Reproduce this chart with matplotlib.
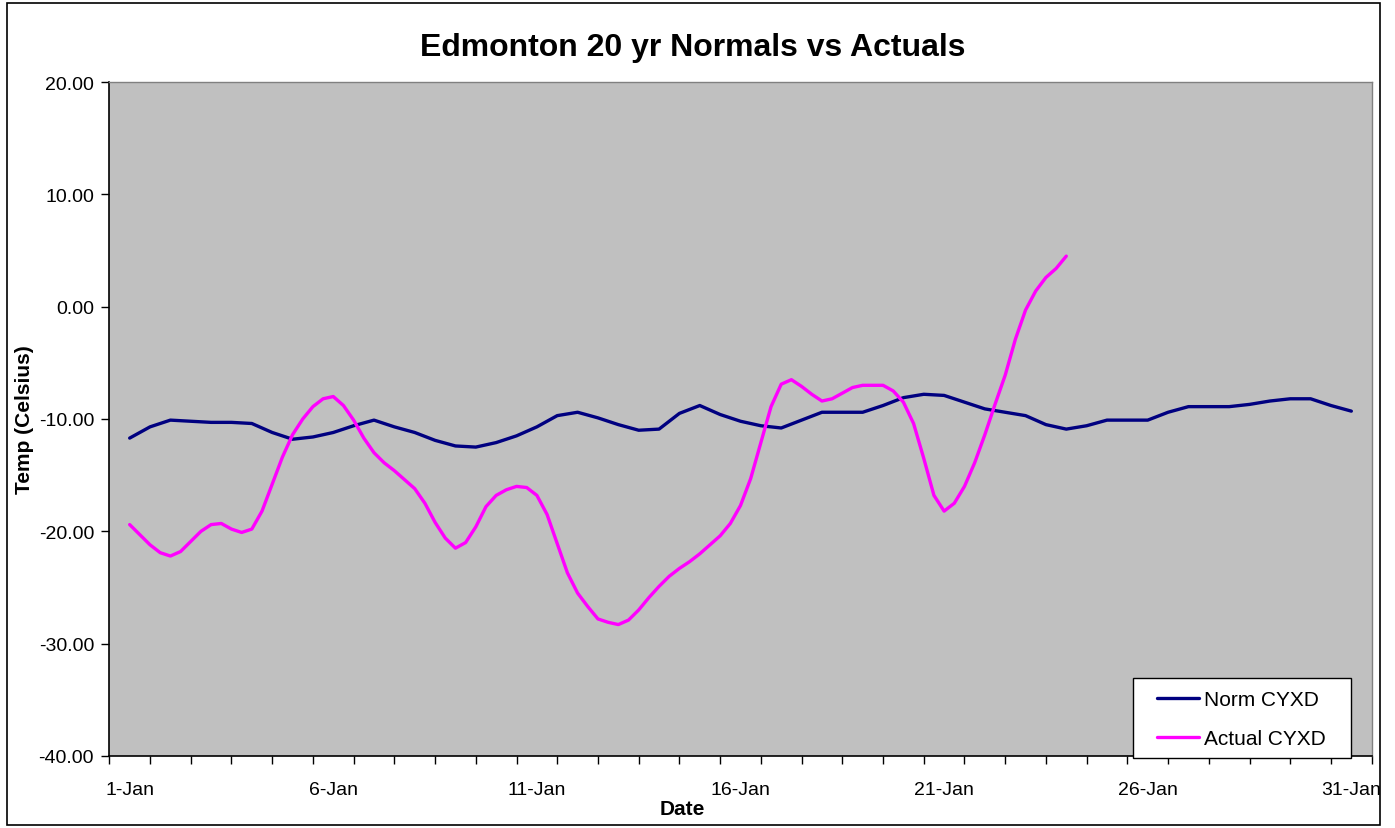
import numpy as np
import matplotlib
matplotlib.use("Agg")
import matplotlib.pyplot as plt
from matplotlib.patches import Rectangle

plt.rcParams['font.family'] = ['Liberation Sans', 'DejaVu Sans']

# day labels on the category axis
day_labels = ["1-Jan", "6-Jan", "11-Jan", "16-Jan", "21-Jan", "26-Jan", "31-Jan"]
day_label_pos = [0, 5, 10, 15, 20, 25, 30]

# 20 yr normals, twice a day (1-Jan .. 31-Jan)
norm_step = 0.5
norm_cyxd = [-11.7, -10.7, -10.1, -10.2, -10.3, -10.3, -10.4, -11.2, -11.8, -11.6,
             -11.2, -10.6, -10.1, -10.7, -11.2, -11.9, -12.4, -12.5, -12.1, -11.5,
             -10.7, -9.7, -9.4, -9.9, -10.5, -11.0, -10.9, -9.5, -8.8, -9.6,
             -10.2, -10.6, -10.8, -10.1, -9.4, -9.4, -9.4, -8.8, -8.1, -7.8,
             -7.9, -8.5, -9.1, -9.4, -9.7, -10.5, -10.9, -10.6, -10.1, -10.1,
             -10.1, -9.4, -8.9, -8.9, -8.9, -8.7, -8.4, -8.2, -8.2, -8.8,
             -9.3]

# actuals, four times a day (1-Jan .. 24-Jan)
actual_step = 0.25
actual_cyxd = [-19.4, -20.3, -21.2, -21.9, -22.2, -21.8, -20.9, -20.0, -19.4, -19.3,
               -19.8, -20.1, -19.8, -18.2, -15.8, -13.4, -11.4, -10.0, -8.9, -8.2,
               -8.0, -8.8, -10.1, -11.7, -13.0, -13.9, -14.6, -15.4, -16.2, -17.5,
               -19.2, -20.6, -21.5, -21.0, -19.6, -17.8, -16.8, -16.3, -16.0, -16.1,
               -16.8, -18.5, -21.1, -23.7, -25.5, -26.7, -27.8, -28.1, -28.3, -27.9,
               -27.0, -25.9, -24.9, -24.0, -23.3, -22.7, -22.0, -21.2, -20.4, -19.3,
               -17.7, -15.3, -12.1, -8.9, -6.9, -6.5, -7.1, -7.8, -8.4, -8.2,
               -7.7, -7.2, -7.0, -7.0, -7.0, -7.5, -8.5, -10.4, -13.5, -16.8,
               -18.2, -17.5, -16.0, -13.9, -11.4, -8.7, -6.1, -2.9, -0.3, 1.4,
               2.6, 3.4, 4.5]

norm_x = np.arange(len(norm_cyxd)) * norm_step
actual_x = np.arange(len(actual_cyxd)) * actual_step

W, H = 1395, 829
fig = plt.figure(figsize=(W / 100, H / 100), dpi=100)
fig.patch.set_facecolor("white")

ax = fig.add_axes([109.3 / W, 1 - 757 / H, (1371.7 - 109.3) / W, (757 - 83) / H])
ax.set_facecolor("#C0C0C0")

l1, = ax.plot(norm_x, norm_cyxd, color="#000080", lw=2.4,
              solid_joinstyle="round", solid_capstyle="round")
l2, = ax.plot(actual_x, actual_cyxd, color="#FF00FF", lw=2.4,
              solid_joinstyle="round", solid_capstyle="round")

ax.set_xlim(-0.5, 30.5)
ax.set_ylim(-40, 20)

ax.set_xticks(day_label_pos)
ax.set_xticklabels(day_labels, fontsize=14)
ax.set_xticks(np.arange(-0.5, 31, 1.0), minor=True)
ax.tick_params(axis="x", which="major", length=0, pad=18)
ax.tick_params(axis="x", which="minor", length=6, width=1, direction="out", color="black")

ax.set_yticks(np.arange(-40, 21, 10))
ax.set_yticklabels(["%.2f" % v for v in np.arange(-40, 21, 10)], fontsize=14)
ax.tick_params(axis="y", length=6, width=1, direction="out", pad=5)

for side in ["top", "right"]:
    ax.spines[side].set_color("#808080")
    ax.spines[side].set_linewidth(1)
for side in ["left", "bottom"]:
    ax.spines[side].set_color("black")
    ax.spines[side].set_linewidth(1.2)

fig.text(693 / W, 1 - 48 / H, "Edmonton 20 yr Normals vs Actuals", ha="center",
         va="center", fontsize=23, fontweight="bold")
fig.text(682 / W, 1 - 810 / H, "Date", ha="center", va="center", fontsize=15,
         fontweight="bold")
fig.text(25 / W, 1 - 420 / H, "Temp (Celsius)", ha="center", va="center",
         fontsize=15, fontweight="bold", rotation=90)

# legend box (white, black border) and entries on top of it
fig.patches.append(Rectangle((1133 / W, 1 - 759 / H), (1351 - 1133) / W, (759 - 679) / H,
                             transform=fig.transFigure, facecolor="white",
                             edgecolor="black", lw=1, zorder=3))
fig.legend([l1, l2], ["Norm CYXD", "Actual CYXD"], loc="upper left",
           bbox_to_anchor=(1157 / W, 1 - 691 / H), frameon=False, fontsize=15,
           handlelength=2.0, handletextpad=0.25, borderpad=0, labelspacing=0.95,
           borderaxespad=0)

# chart area border
fig.patches.append(Rectangle((7 / W, 1 - 826 / H), (1380 - 7) / W, (826 - 4) / H,
                             transform=fig.transFigure, fill=False,
                             edgecolor="black", lw=1.2))

fig.savefig("out.png", dpi=100)
